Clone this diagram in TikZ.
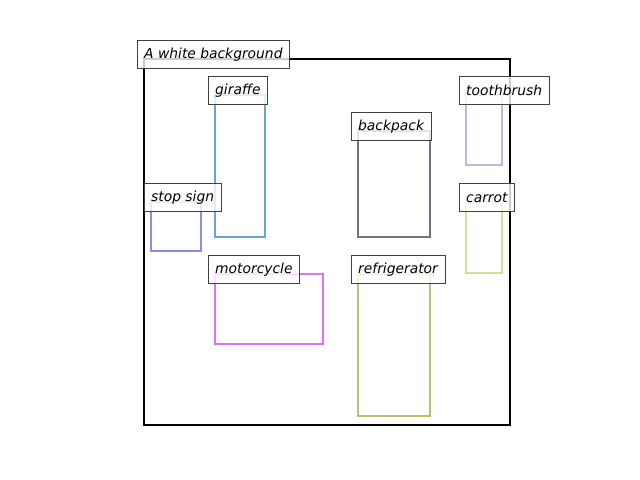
\documentclass[tikz,border=0pt]{standalone}
\usepackage{fontspec}
\setmainfont{DejaVu Sans}
\usepackage{xcolor}
\usetikzlibrary{positioning}
\definecolor{giraffeblue}{HTML}{66A6D4}
\definecolor{stopblue}{HTML}{8891E0}
\definecolor{brushlilac}{HTML}{BDB8DE}
\definecolor{carrotgreen}{HTML}{D2DE9A}
\definecolor{packgray}{HTML}{737387}
\definecolor{motoviolet}{HTML}{E070F5}
\definecolor{fridgeolive}{HTML}{C0BC78}
\definecolor{labelframe}{HTML}{404040}

\begin{document}
\begin{tikzpicture}[x=0.01in, y=-0.01in, font=\itshape,
    lbl/.style={draw=labelframe, fill=white, fill opacity=0.8, text opacity=1,
      inner xsep=5pt, inner ysep=0pt, minimum height=0.28in, anchor=north west},
    bbox/.style={line width=1.9pt}]
  \useasboundingbox (0,0) rectangle (640,480);
  % boxes
  \draw[line width=1.8pt, black] (144,59) rectangle (510,425);
  \draw[bbox, giraffeblue] (215,95) rectangle (265,237);
  \draw[bbox, stopblue] (151,202) rectangle (201,251);
  \draw[bbox, brushlilac] (466,95) rectangle (502,165);
  \draw[bbox, carrotgreen] (466,202) rectangle (502,273);
  \draw[bbox, packgray] (358,131) rectangle (430,237);
  \draw[bbox, motoviolet] (215,274) rectangle (323,344);
  \draw[bbox, fridgeolive] (358,274) rectangle (430,416);
  % labels
  \node[lbl] (lbg) at (137,40) {A white background};
  \node[lbl] (lgiraffe) at (208,76) {giraffe};
  \node[lbl] (lstop) at (144,183) {stop sign};
  \node[lbl] (lbrush) at (459,76) {toothbrush};
  \node[lbl] (lcarrot) at (459,183) {carrot};
  \node[lbl] (lpack) at (351,112) {backpack};
  \node[lbl] (lmoto) at (208,255) {motorcycle};
  \node[lbl] (lfridge) at (351,255) {refrigerator};
\end{tikzpicture}
\end{document}
